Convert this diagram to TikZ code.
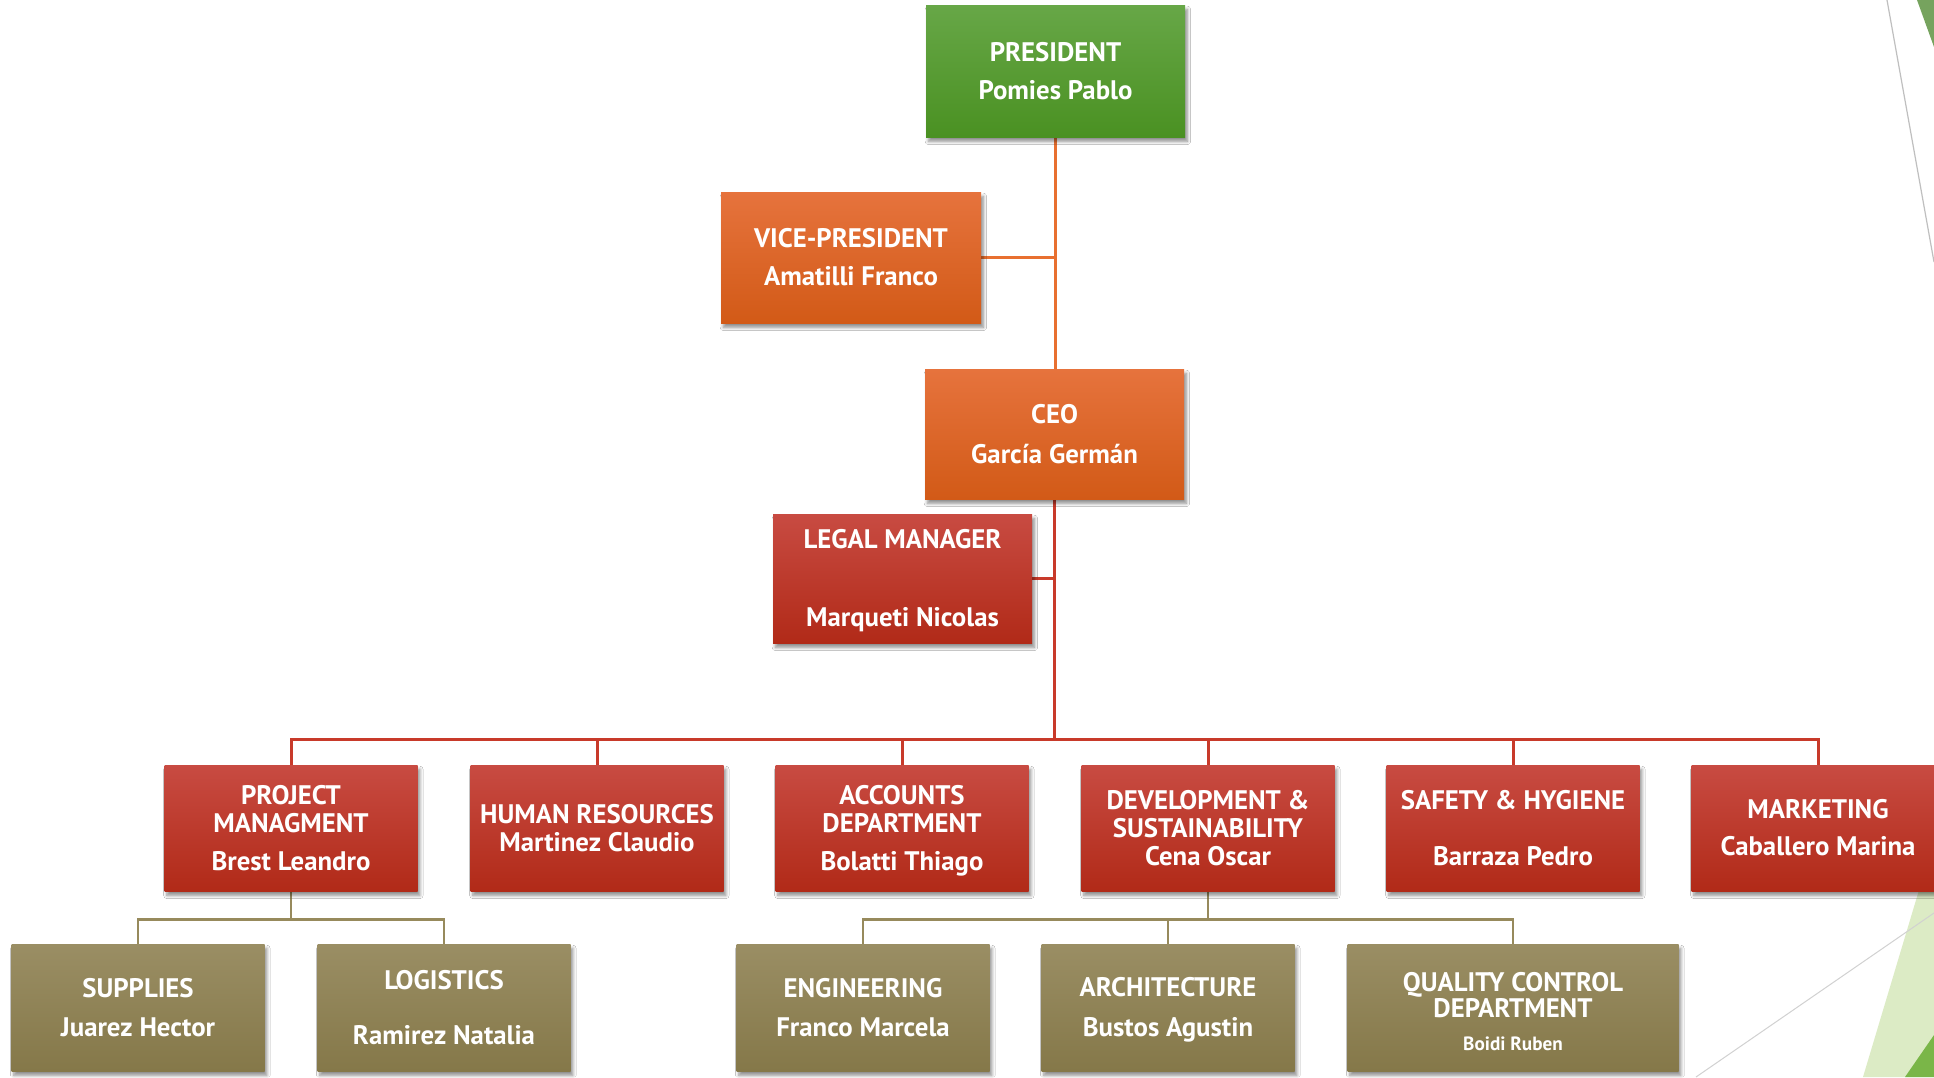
\documentclass[tikz,border=0pt]{standalone}
\usepackage{fontspec}
\setmainfont{PT Sans}
\usetikzlibrary{shadows.blur,calc}
\definecolor{grT}{HTML}{67A747}
\definecolor{grB}{HTML}{4A9122}
\definecolor{orT}{HTML}{E6733D}
\definecolor{orB}{HTML}{D25A17}
\definecolor{rdT}{HTML}{C84B42}
\definecolor{rdB}{HTML}{B12A18}
\definecolor{olT}{HTML}{9A8E64}
\definecolor{olB}{HTML}{857849}
\definecolor{orL}{HTML}{E87030}
\definecolor{rdL}{HTML}{C83A2A}
\definecolor{olL}{HTML}{978A5C}
\definecolor{decG}{HTML}{76A35E}
\definecolor{decLG}{HTML}{DCEBC5}
\definecolor{decDG}{HTML}{7AB648}
\pgfdeclarelayer{bg}
\pgfsetlayers{bg,main}
\tikzset{
  box/.style={draw=none, inner sep=0pt, align=center, text=white,
    font=\fontsize{13.4}{14}\selectfont\bfseries,
    blur shadow={shadow xshift=1.2pt, shadow yshift=-2.2pt, shadow blur radius=1.6pt, shadow blur steps=6, shadow opacity=45}},
  sz/.style 2 args={minimum width=#1*0.5pt, minimum height=#2*0.5pt},
  greenbox/.style={box, top color=grT, bottom color=grB},
  orangebox/.style={box, top color=orT, bottom color=orB},
  redbox/.style={box, top color=rdT, bottom color=rdB},
  olivebox/.style={box, top color=olT, bottom color=olB},
  orline/.style={draw=orL, line width=1.5pt},
  rdline/.style={draw=rdL, line width=1.5pt},
  olline/.style={draw=olL, line width=1.2pt},
}
\begin{document}
\begin{tikzpicture}[x=0.5pt,y=-0.5pt]
\useasboundingbox (0,0) rectangle (1934,1077);
% theme decorations
\fill[decG] (1917,0) -- (1934,0) -- (1934,47) -- cycle;
\draw[black!25, line width=0.6pt] (1887,0) -- (1934,262);
\fill[decLG] (1928,860) -- (1863,1077) -- (1934,1077) -- (1934,860) -- cycle;
\fill[decDG] (1934,1035) -- (1905,1077) -- (1934,1077) -- cycle;
\draw[black!18, line width=0.5pt] (1696,1077) -- (1934,913);
% boxes
\node[greenbox, sz={259}{132}] (pres) at (1055.5,71) {PRESIDENT\\[5pt]Pomies Pablo};
\node[orangebox, sz={260}{131}] (vp) at (851,257.5) {VICE-PRESIDENT\\[5pt]Amatilli Franco};
\node[orangebox, sz={259}{130}] (ceo) at (1054.5,434) {CEO\\[5.7pt]García Germán};
\node[redbox, sz={259}{129}] (legal) at (902.5,578.5) {\rule{0pt}{12pt}LEGAL MANAGER\\[24.9pt]Marqueti Nicolas};
\node[redbox, sz={253}{126}] (pm) at (291,828) {PROJECT\\MANAGMENT\\[5pt]Brest Leandro};
\node[redbox, sz={253}{126}] (hr) at (597,828) {HUMAN RESOURCES\\Martinez Claudio};
\node[redbox, sz={253}{126}] (ad) at (902,828) {\rule{0pt}{12pt}ACCOUNTS\\DEPARTMENT\\[5pt]Bolatti Thiago};
\node[redbox, sz={253}{126}] (ds) at (1208,828) {DEVELOPMENT \&\\SUSTAINABILITY\\Cena Oscar};
\node[redbox, sz={253}{126}] (sh) at (1513,828) {SAFETY \& HYGIENE\\[13.7pt]Barraza Pedro};
\node[redbox, sz={253}{126}] (mk) at (1818,828) {MARKETING\\[4.5pt]Caballero Marina};
\node[olivebox, sz={253}{127}] (sup) at (138,1007.5) {SUPPLIES\\[5.7pt]Juarez Hector};
\node[olivebox, sz={253}{127}] (log) at (444,1007.5) {LOGISTICS\\[13.7pt]Ramirez Natalia};
\node[olivebox, sz={253}{127}] (eng) at (863,1007.5) {ENGINEERING\\[5.7pt]Franco Marcela};
\node[olivebox, sz={253}{127}] (arch) at (1168,1007.5) {\rule{0pt}{12pt}ARCHITECTURE\\[5.7pt]Bustos Agustin};
\node[olivebox, sz={331}{127}] (qc) at (1513,1007.5) {\rule{0pt}{13.6pt}QUALITY CONTROL\\[-0.9pt]DEPARTMENT\\[2.6pt]{\fontsize{9.6}{11}\selectfont Boidi Ruben}};
% connectors
\begin{pgfonlayer}{bg}
\fill[white] (0,0) rectangle (1934,1077);
\draw[orline] (pres.south) -- (pres.south |- ceo.north);
\draw[orline] (vp.east) -- (vp.east -| pres.south);
\draw[rdline] (ceo.south) -- ++(0,240) coordinate (hub);
\draw[rdline] (legal.east) -- (legal.east -| ceo.south);
\foreach \n in {pm,hr,ad,ds,sh,mk}{\draw[rdline] (\n.north) |- (hub);}
\draw[olline] (pm.south) -- ++(0,28) coordinate (h1);
\draw[olline] (sup.north) |- (h1);
\draw[olline] (log.north) |- (h1);
\draw[olline] (ds.south) -- ++(0,28) coordinate (h2);
\draw[olline] (eng.north) |- (h2);
\draw[olline] (arch.north) |- (h2);
\draw[olline] (qc.north) |- (h2);
\end{pgfonlayer}
\end{tikzpicture}
\end{document}
